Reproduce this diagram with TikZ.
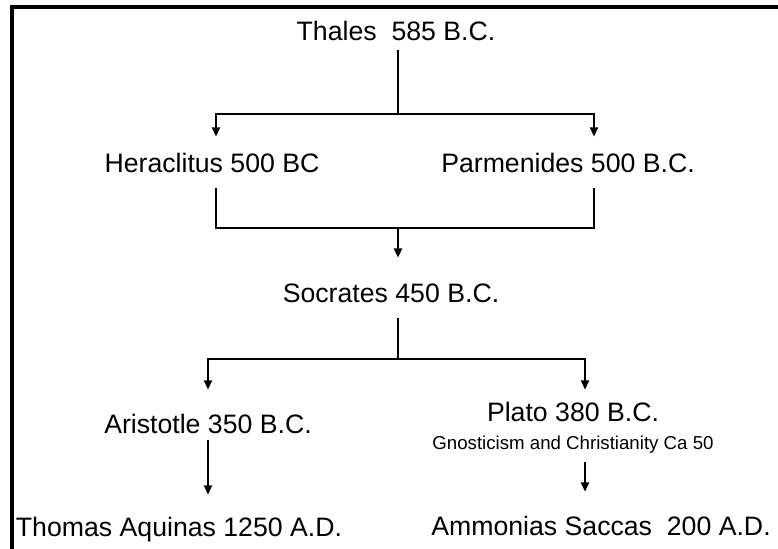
\documentclass[tikz,border=0pt]{standalone}
\usepackage{fontspec}
\setmainfont{Liberation Sans}
\usetikzlibrary{arrows.meta,calc}
\begin{document}
\begin{tikzpicture}[x=0.75pt,y=-0.75pt,
  person/.style={inner sep=0pt, font=\fontsize{20}{24}\selectfont,
    text height=14.3pt, text depth=0pt},
  remark/.style={inner sep=0pt, font=\fontsize{14}{17}\selectfont,
    text height=10pt, text depth=0pt},
  link/.style={line width=1.6pt},
  arrowlink/.style={link, -{Triangle[width=6pt,length=7pt]}},
  frame/.style={line width=3pt, miter limit=10}]
\useasboundingbox (0,0) rectangle (778,549);

% border along the top and left edges
\draw[frame] (778,7) -- (12,7) -- (12,549);

% philosophers
\node[person] (thales)     at (396,31)  {Thales\ \ 585 B.C.};
\node[person] (heraclitus) at (212,163) {Heraclitus 500 BC};
\node[person] (parmenides) at (568,163) {Parmenides 500 B.C.};
\node[person] (socrates)   at (391,293) {Socrates 450 B.C.};
\node[person] (aristotle)  at (208,424) {Aristotle 350 B.C.};
\node[person] (plato)      at (573,412) {Plato 380 B.C.};
\node[remark] (gnostic)    at (573,443) {Gnosticism and Christianity Ca 50};
\node[person] (aquinas)    at (179,527) {Thomas Aquinas 1250 A.D.};
\node[person] (ammonias)   at (601,526) {Ammonias Saccas\ \ 200 A.D.};

% junction points of the branches
\coordinate (split1) at (398,114);
\coordinate (left1)  at (216,114);
\coordinate (right1) at (594,114);
\coordinate (merge)  at (398,228);
\coordinate (split2) at (398,359);
\coordinate (left2)  at (208,359);
\coordinate (right2) at (585,359);

% Thales to Heraclitus and Parmenides
\draw[link, shorten <=7pt] (split1 |- thales.south) -- (split1);
\draw[arrowlink, shorten >=12.4pt] (split1) -| (left1 |- heraclitus.north);
\draw[arrowlink, shorten >=12.4pt] (split1) -| (right1 |- parmenides.north);

% Heraclitus and Parmenides to Socrates
\draw[link, shorten <=11.6pt] (left1 |- heraclitus.south) |- (merge);
\draw[link, shorten <=11.6pt] (right1 |- parmenides.south) |- (merge);
\draw[arrowlink, shorten >=19.1pt] (merge) -- (merge |- socrates.north);

% Socrates to Aristotle and Plato
\draw[link, shorten <=11.6pt] (split2 |- socrates.south) -- (split2);
\draw[arrowlink, shorten >=18.4pt] (split2) -| (left2 |- aristotle.north);
\draw[arrowlink, shorten >=9.4pt] (split2) -| (right2 |- plato.north);

% later successors
\draw[arrowlink, shorten <=4.9pt, shorten >=16.9pt]
  (left2 |- aristotle.south) -- (left2 |- aquinas.north);
\draw[arrowlink, shorten <=9.2pt, shorten >=18.4pt]
  (right2 |- gnostic.south) -- (right2 |- ammonias.north);
\end{tikzpicture}
\end{document}
